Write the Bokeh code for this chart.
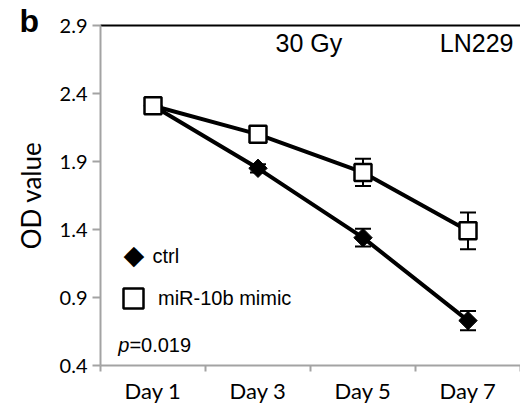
from bokeh.plotting import figure
from bokeh.models import (Range1d, FixedTicker, LinearAxis, Whisker, TeeHead, Title,
                          ColumnDataSource, Legend, LegendItem, Label, PrintfTickFormatter)
from bokeh.embed import file_html
from bokeh.resources import INLINE

# ---- data ----
days = ["Day 1", "Day 3", "Day 5", "Day 7"]
ctrl = [2.31, 1.85, 1.34, 0.73]
ctrl_err = [0.03, 0.03, 0.065, 0.07]
mimic = [2.31, 2.10, 1.82, 1.39]
mimic_err = [0.04, 0.02, 0.10, 0.135]
y_ticks = [0.4, 0.9, 1.4, 1.9, 2.4, 2.9]
p_text = "=0.019"

xs = [i + 0.5 for i in range(len(days))]
GRAY = "#a3a3a3"

p = figure(width=520, height=414, output_backend="svg", toolbar_location=None,
           x_range=Range1d(0, len(days)), y_range=Range1d(y_ticks[0], y_ticks[-1]),
           min_border_left=100, min_border_right=0, min_border_top=25, min_border_bottom=49,
           x_axis_type=None, y_axis_type=None,
           title=Title(text="b", align="left", offset=-81, standoff=-26,
                       text_font="Liberation Sans", text_font_style="bold",
                       text_font_size="32px", text_color="black"))
p.outline_line_color = None
p.background_fill_color = "white"
p.border_fill_color = "white"

# left axis
yax = LinearAxis(ticker=FixedTicker(ticks=y_ticks), formatter=PrintfTickFormatter(format="%.1f"))
yax.axis_line_color = GRAY
yax.axis_line_width = 2
yax.major_tick_line_color = GRAY
yax.major_tick_line_width = 2
yax.major_tick_out = 8
yax.major_tick_in = 0
yax.minor_tick_line_color = None
yax.major_label_text_font = "Lato"
yax.major_label_text_font_size = "20px"
yax.major_label_text_color = "black"
yax.major_label_standoff = 5
yax.axis_label = "OD value"
yax.axis_label_text_font = "Lato"
yax.axis_label_text_font_style = "normal"
yax.axis_label_text_font_size = "26px"
yax.axis_label_text_color = "black"
yax.axis_label_standoff = 10
p.add_layout(yax, "left")

# bottom axis
xax = LinearAxis(ticker=FixedTicker(ticks=xs, minor_ticks=list(range(len(days) + 1))))
xax.major_label_overrides = {x: d for x, d in zip(xs, days)}
xax.axis_line_color = GRAY
xax.axis_line_width = 2
xax.major_tick_line_color = None
xax.minor_tick_line_color = GRAY
xax.minor_tick_line_width = 2
xax.minor_tick_out = 6
xax.minor_tick_in = 0
xax.major_label_text_font = "Lato"
xax.major_label_text_font_size = "22px"
xax.major_label_text_color = "black"
xax.major_label_standoff = 5
p.add_layout(xax, "below")

# top line
tax = LinearAxis(ticker=FixedTicker(ticks=[]))
tax.axis_line_color = "black"
tax.axis_line_width = 2
tax.major_tick_line_color = None
tax.minor_tick_line_color = None
tax.major_label_text_font_size = "0px"
tax.major_label_standoff = 0
p.add_layout(tax, "above")

src = ColumnDataSource(dict(x=xs, ctrl=ctrl, mimic=mimic,
                            c_lo=[v - e for v, e in zip(ctrl, ctrl_err)],
                            c_hi=[v + e for v, e in zip(ctrl, ctrl_err)],
                            m_lo=[v - e for v, e in zip(mimic, mimic_err)],
                            m_hi=[v + e for v, e in zip(mimic, mimic_err)]))

for lo, hi in (("c_lo", "c_hi"), ("m_lo", "m_hi")):
    w = Whisker(source=src, base="x", lower=lo, upper=hi, level="underlay",
                line_color="black", line_width=2,
                upper_head=TeeHead(size=16, line_color="black", line_width=2),
                lower_head=TeeHead(size=16, line_color="black", line_width=2))
    p.add_layout(w)

p.line("x", "ctrl", source=src, line_color="black", line_width=4)
p.line("x", "mimic", source=src, line_color="black", line_width=4)
r_ctrl = p.scatter("x", "ctrl", source=src, marker="square", angle=0.7853981634, size=13,
                   fill_color="black", line_color="black", line_width=1)
r_mimic = p.scatter("x", "mimic", source=src, marker="square", size=17,
                    fill_color="white", line_color="black", line_width=2.5)

# legend
p.add_layout(Label(x=0.319, y=1.215, text="\u25C6", text_font="DejaVu Sans", text_align="center",
                   text_font_size="27px", text_baseline="middle", text_color="black"))
p.add_layout(Label(x=0.495, y=1.205, text="ctrl", text_font="Liberation Sans",
                   text_font_size="20px", text_baseline="middle", text_color="black"))
leg2 = Legend(items=[LegendItem(label="miR-10b mimic", renderers=[r_mimic])], location=(8, 42),
              glyph_width=50, glyph_height=50, label_standoff=-4, padding=0, margin=0,
              border_line_color=None, background_fill_alpha=0,
              label_text_font="Liberation Sans", label_text_font_size="20px",
              label_text_color="black")
p.add_layout(leg2, "center")

p.add_layout(Label(x=0.17, y=0.55, text="p", text_font="Liberation Sans", text_font_style="italic",
                   text_font_size="20px", text_baseline="middle", text_color="black"))
p.add_layout(Label(x=0.275, y=0.55, text=p_text, text_font="Liberation Sans",
                   text_font_size="20px", text_baseline="middle", text_color="black"))
p.add_layout(Label(x=1.667, y=2.768, text="30 Gy", text_font="Liberation Sans",
                   text_font_size="25px", text_baseline="middle", text_color="black"))
p.add_layout(Label(x=3.933, y=2.768, text="LN229", text_font="Liberation Sans", text_align="right",
                   text_font_size="25px", text_baseline="middle", text_color="black"))

open("out.html", "w").write(file_html(p, INLINE))
